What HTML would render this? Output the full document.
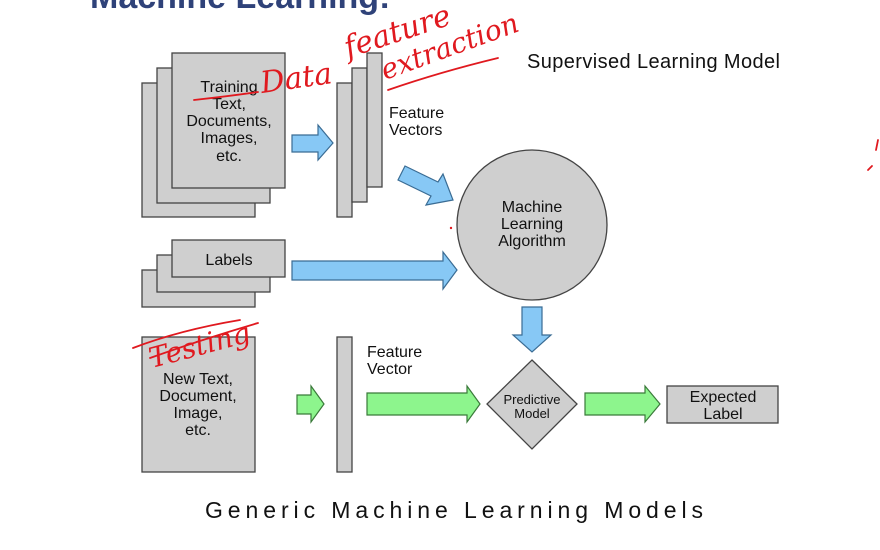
<!DOCTYPE html>
<html><head><meta charset="utf-8"><style>
html,body{margin:0;padding:0;background:#fff;}
svg{display:block;font-family:"Liberation Sans","DejaVu Sans",sans-serif;}
</style></head><body>
<svg width="880" height="550" viewBox="0 0 880 550">
<rect width="880" height="550" fill="#fff"/>
<text x="90" y="8" font-size="34" font-weight="bold" fill="#2f4279">Machine Learning:</text>
<text x="527" y="68" font-size="20" fill="#111" textLength="253">Supervised Learning Model</text>
<g fill="#cfcfcf" stroke="#444" stroke-width="1.3">
<rect x="142" y="83" width="113" height="134"/>
<rect x="157" y="68" width="113" height="135"/>
<rect x="172" y="53" width="113" height="135"/>
<rect x="337" y="83" width="15" height="134"/>
<rect x="352" y="68" width="15" height="134"/>
<rect x="367" y="53" width="15" height="134"/>
<rect x="142" y="270" width="113" height="37"/>
<rect x="157" y="255" width="113" height="37"/>
<rect x="172" y="240" width="113" height="37"/>
<circle cx="532" cy="225" r="75"/>
<rect x="142" y="337" width="113" height="135"/>
<rect x="337" y="337" width="15" height="135"/>
<polygon points="532,360 577,404 532,449 487,404"/>
<rect x="667" y="386" width="111" height="37"/>
</g>
<g font-size="16" fill="#111" text-anchor="middle">
<text x="229" y="92">Training</text>
<text x="229" y="109">Text,</text>
<text x="229" y="126">Documents,</text>
<text x="229" y="143">Images,</text>
<text x="229" y="161">etc.</text>
<text x="229" y="265">Labels</text>
<text x="532" y="212">Machine</text>
<text x="532" y="229">Learning</text>
<text x="532" y="246">Algorithm</text>
<text x="198" y="384">New Text,</text>
<text x="198" y="401">Document,</text>
<text x="198" y="418">Image,</text>
<text x="198" y="435">etc.</text>
<text x="723" y="402">Expected</text>
<text x="723" y="419">Label</text>
<text x="532" y="404" font-size="13">Predictive</text>
<text x="532" y="418" font-size="13">Model</text>
</g>
<g font-size="16" fill="#111">
<text x="389" y="118">Feature</text>
<text x="389" y="135">Vectors</text>
<text x="367" y="357">Feature</text>
<text x="367" y="374">Vector</text>
</g>
<g fill="#87c8f5" stroke="#3a6c94" stroke-width="1.2">
<polygon points="292,135 318,135 318,125 333,143 318,160 318,152 292,152"/>
<polygon points="292,261 443,261 443,252 457,270 443,289 443,280 292,280"/>
<polygon points="522,307 542,307 542,335 551,335 532,352 513,335 522,335"/>
<polygon points="398,180 405,166 438,182 443,174 453,200 426,205 431,196"/>
</g>
<g fill="#8df58d" stroke="#3a7a3a" stroke-width="1.2">
<polygon points="297,395 311,395 311,386 324,404 311,422 311,414 297,414"/>
<polygon points="367,393 467,393 467,386 480,404 467,422 467,415 367,415"/>
<polygon points="585,393 645,393 645,386 660,404 645,422 645,415 585,415"/>
</g>
<text x="205" y="518" font-size="23" fill="#111" textLength="498" lengthAdjust="spacing">Generic Machine Learning Models</text>
<g fill="none" stroke="#e0191f" stroke-width="1.8" stroke-linecap="round">
<path d="M194,100 Q230,96 258,92"/>
<path d="M388,90 Q440,72 498,58"/>
<path d="M133,348 Q180,330 240,320 M150,358 Q200,340 258,323"/>
<path d="M868,170 l4,-4 M878,140 l-2,10"/>
</g>
<g fill="#e0191f" font-family="'DejaVu Serif',serif" font-style="italic">
<text x="262" y="93" font-size="30" transform="rotate(-8 262 93)">Data</text>
<text x="348" y="58" font-size="30" transform="rotate(-18 348 58)">feature</text>
<text x="385" y="80" font-size="28" transform="rotate(-20 385 80)">extraction</text>
<text x="152" y="368" font-size="28" transform="rotate(-15 152 368)">Testing</text>
</g>
<circle cx="451" cy="228" r="1.2" fill="#e0191f"/>
</svg>
</body></html>
